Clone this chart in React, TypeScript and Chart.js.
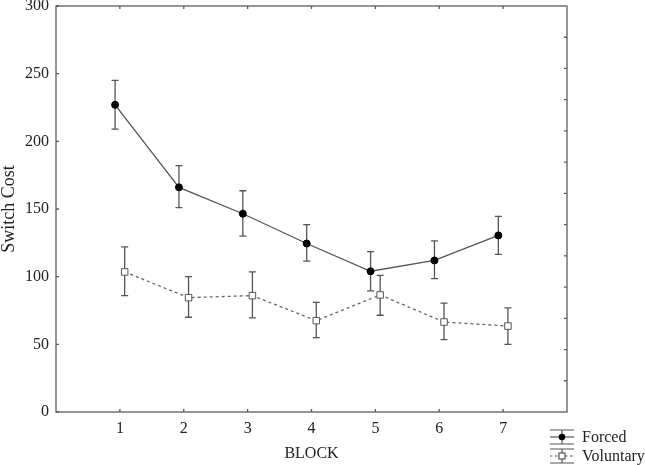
import React, { useEffect, useRef } from "react";
import { Chart, registerables } from "chart.js";

Chart.register(...registerables);

// ---- data ----
const blocks = [1, 2, 3, 4, 5, 6, 7];
const forcedMean = [227, 166, 146.5, 124.5, 104, 112, 130.5];
const forcedLower = [209, 151, 130, 111.5, 89.5, 98.5, 116.5];
const forcedUpper = [245, 182, 163.5, 138.5, 118.5, 126.5, 144.5];
const voluntaryMean = [103.5, 84.5, 86, 67.5, 86.5, 66.5, 63.5];
const voluntaryLower = [86, 70, 69.5, 55, 71.5, 53.5, 50];
const voluntaryUpper = [122, 100, 103.5, 81, 101, 80.5, 77];
const seriesNames = ["Forced", "Voluntary"];
const yTickValues = [0, 50, 100, 150, 200, 250, 300];
const xTitle = "BLOCK";
const yTitle = "Switch Cost";

const DODGE = 0.075;
const RIGHT_DIVISIONS = 13;
const FONT = "'Liberation Serif', 'Times New Roman', serif";
const AXIS_COLOR = "#5c5c5c";
const TEXT_COLOR = "#222";
const BAR_COLOR = "#555";

const errorBars = [
  { lower: forcedLower, upper: forcedUpper },
  { lower: voluntaryLower, upper: voluntaryUpper },
];

const framePlugin = {
  id: "frameTicks",
  beforeDatasetsDraw(chart: any) {
    const { ctx, scales } = chart;
    ctx.save();
    ctx.strokeStyle = BAR_COLOR;
    ctx.lineWidth = 1.3;
    ctx.setLineDash([]);
    errorBars.forEach((eb, di) => {
      const meta = chart.getDatasetMeta(di);
      meta.data.forEach((pt: any, i: number) => {
        const x = pt.x;
        const yl = scales.y.getPixelForValue(eb.lower[i]);
        const yu = scales.y.getPixelForValue(eb.upper[i]);
        const cap = 3.5;
        ctx.beginPath();
        ctx.moveTo(x, yl);
        ctx.lineTo(x, yu);
        ctx.moveTo(x - cap, yl);
        ctx.lineTo(x + cap, yl);
        ctx.moveTo(x - cap, yu);
        ctx.lineTo(x + cap, yu);
        ctx.stroke();
      });
    });
    ctx.restore();
  },
  afterDraw(chart: any) {
    const { ctx, chartArea: a, scales } = chart;
    ctx.save();
    ctx.strokeStyle = AXIS_COLOR;
    ctx.lineWidth = 1.3;
    ctx.setLineDash([]);
    ctx.strokeRect(a.left, a.top, a.right - a.left, a.bottom - a.top);
    const tl = 3;
    ctx.beginPath();
    blocks.forEach((b) => {
      const x = scales.x.getPixelForValue(b);
      ctx.moveTo(x, a.bottom);
      ctx.lineTo(x, a.bottom - tl);
      ctx.moveTo(x, a.top);
      ctx.lineTo(x, a.top + tl);
    });
    yTickValues.forEach((v) => {
      const y = scales.y.getPixelForValue(v);
      ctx.moveTo(a.left, y);
      ctx.lineTo(a.left + tl, y);
    });
    for (let k = 1; k < RIGHT_DIVISIONS; k++) {
      const y = a.top + ((a.bottom - a.top) * k) / RIGHT_DIVISIONS;
      ctx.moveTo(a.right, y);
      ctx.lineTo(a.right - tl, y);
    }
    ctx.stroke();

    // legend
    const lx0 = a.right - 17;
    const lx1 = a.right + 7;
    const lxc = (lx0 + lx1) / 2;
    const rows = [a.bottom + 25, a.bottom + 44];
    rows.forEach((yc, i) => {
      ctx.strokeStyle = BAR_COLOR;
      ctx.lineWidth = 1.2;
      ctx.setLineDash([]);
      ctx.beginPath();
      ctx.moveTo(lx0, yc - 7);
      ctx.lineTo(lx1, yc - 7);
      ctx.moveTo(lx0, yc + 7);
      ctx.lineTo(lx1, yc + 7);
      ctx.moveTo(lxc, yc - 7);
      ctx.lineTo(lxc, yc + 7);
      ctx.stroke();
      ctx.beginPath();
      if (i === 1) ctx.setLineDash([2.5, 2.5]);
      ctx.moveTo(lx0, yc);
      ctx.lineTo(lx1, yc);
      ctx.stroke();
      ctx.setLineDash([]);
      if (i === 0) {
        ctx.fillStyle = "#000";
        ctx.beginPath();
        ctx.arc(lxc, yc, 3.3, 0, Math.PI * 2);
        ctx.fill();
      } else {
        ctx.fillStyle = "#fff";
        ctx.fillRect(lxc - 3, yc - 3, 6, 6);
        ctx.strokeRect(lxc - 3, yc - 3, 6, 6);
      }
      ctx.fillStyle = TEXT_COLOR;
      ctx.font = `16px ${FONT}`;
      ctx.textBaseline = "middle";
      ctx.textAlign = "left";
      ctx.fillText(seriesNames[i], a.right + 15, yc + 0.5);
    });
    ctx.restore();
  },
};

export default function App() {
  const ref = useRef<HTMLCanvasElement>(null);
  useEffect(() => {
    if (!ref.current) return;
    const chart = new Chart(ref.current, {
      type: "line",
      data: {
        datasets: [
          {
            label: seriesNames[0],
            data: blocks.map((b, i) => ({ x: b - DODGE, y: forcedMean[i] })),
            borderColor: "#555",
            borderWidth: 1.3,
            pointStyle: "circle",
            pointRadius: 3.5,
            pointBackgroundColor: "#000",
            pointBorderColor: "#000",
            pointBorderWidth: 1,
          },
          {
            label: seriesNames[1],
            data: blocks.map((b, i) => ({ x: b + DODGE, y: voluntaryMean[i] })),
            borderColor: "#666",
            borderWidth: 1.3,
            borderDash: [3, 3],
            pointStyle: "rect",
            pointRadius: 4.6,
            pointBackgroundColor: "#fff",
            pointBorderColor: "#555",
            pointBorderWidth: 1,
          },
        ],
      },
      options: {
        animation: false,
        responsive: true,
        maintainAspectRatio: false,
        layout: { padding: { top: 0, right: 78, left: 0, bottom: 0 } },
        plugins: { legend: { display: false }, tooltip: { enabled: false } },
        scales: {
          x: {
            type: "linear",
            min: 0,
            max: 8,
            grid: { display: false, drawTicks: false },
            border: { display: false },
            afterFit: (s: any) => {
              s.height = 53;
              s.paddingLeft = 0;
              s.paddingRight = 0;
            },
            ticks: {
              stepSize: 1,
              padding: 7,
              color: TEXT_COLOR,
              font: { family: FONT, size: 16 },
              callback: (v: any) => (blocks.includes(Number(v)) ? String(v) : ""),
            },
            title: {
              display: true,
              text: xTitle,
              color: TEXT_COLOR,
              font: { family: FONT, size: 16, lineHeight: 1.2 },
              padding: { top: 0, bottom: 1.5 },
            },
          },
          y: {
            min: 0,
            max: 300,
            grid: { display: false, drawTicks: false },
            border: { display: false },
            afterFit: (s: any) => {
              s.width = 56;
              s.paddingTop = 6;
              s.paddingBottom = 0;
            },
            afterBuildTicks: (s: any) => {
              s.ticks = yTickValues.map((v) => ({ value: v }));
            },
            ticks: {
              padding: 7,
              color: TEXT_COLOR,
              font: { family: FONT, size: 16 },
            },
            title: {
              display: true,
              text: yTitle,
              color: TEXT_COLOR,
              font: { family: FONT, size: 18, lineHeight: 1 },
              padding: { top: 0, bottom: 0 },
            },
          },
        },
      },
      plugins: [framePlugin],
    });
    return () => chart.destroy();
  }, []);
  return (
    <div style={{ position: "absolute", left: 0, top: 0, width: 645, height: 465, background: "#fff" }}>
      <canvas ref={ref} />
    </div>
  );
}
